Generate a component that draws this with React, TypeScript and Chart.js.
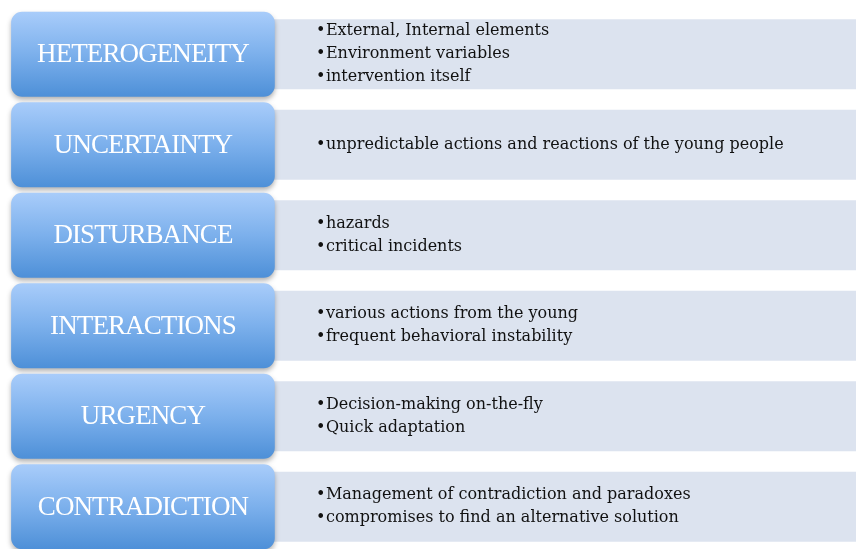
import React, { useEffect, useRef } from "react";
import { Chart, registerables } from "chart.js";

Chart.register(...registerables);

const categories = [
  "HETEROGENEITY",
  "UNCERTAINTY",
  "DISTURBANCE",
  "INTERACTIONS",
  "URGENCY",
  "CONTRADICTION",
];

const heterogeneityItems = ["External, Internal elements", "Environment variables", "intervention itself"];
const uncertaintyItems = ["unpredictable actions and reactions of the young people"];
const disturbanceItems = ["hazards", "critical incidents"];
const interactionsItems = ["various actions from the young", "frequent behavioral instability"];
const urgencyItems = ["Decision-making on-the-fly", "Quick adaptation"];
const contradictionItems = ["Management of contradiction and paradoxes", "compromises to find an alternative solution"];

const details = [
  heterogeneityItems,
  uncertaintyItems,
  disturbanceItems,
  interactionsItems,
  urgencyItems,
  contradictionItems,
];

const LABEL_FONT = "27px 'Liberation Serif', serif";
const ITEM_FONT = "16px 'DejaVu Serif', serif";

export default function App() {
  const ref = useRef<HTMLCanvasElement | null>(null);

  useEffect(() => {
    if (!ref.current) return;

    const shadowPlugin = {
      id: "boxShadow",
      beforeDatasetDraw(chart: any, args: any) {
        if (args.index !== 0) return;
        const c = chart.ctx;
        c.save();
        c.shadowColor = "rgba(0,0,0,0.3)";
        c.shadowBlur = 5;
        c.shadowOffsetX = 0;
        c.shadowOffsetY = 3;
      },
      afterDatasetDraw(chart: any, args: any) {
        if (args.index !== 0) return;
        chart.ctx.restore();
      },
    };

    const textPlugin = {
      id: "rowText",
      afterDatasetsDraw(chart: any) {
        const c = chart.ctx;
        const boxes = chart.getDatasetMeta(0).data;
        const panels = chart.getDatasetMeta(1).data;
        c.save();
        c.textBaseline = "middle";
        c.font = LABEL_FONT;
        c.fillStyle = "#ffffff";
        c.textAlign = "center";
        try { (c as any).letterSpacing = "-0.9px"; } catch (e) {}
        boxes.forEach((el: any, i: number) => {
          const cx = (el.x + el.base) / 2;
          c.fillText(categories[i], cx, el.y + 1);
        });
        try { (c as any).letterSpacing = "0px"; } catch (e) {}
        c.font = ITEM_FONT;
        c.fillStyle = "#111111";
        c.textAlign = "left";
        panels.forEach((el: any, i: number) => {
          const items = details[i];
          const left = Math.min(el.x, el.base);
          items.forEach((t: string, k: number) => {
            const y = el.y + (k - (items.length - 1) / 2) * 23;
            c.fillText("\u2022", left + 42, y);
            c.fillText(t, left + 52, y);
          });
        });
        c.restore();
      },
    };

    const chart = new Chart(ref.current, {
      type: "bar",
      data: {
        labels: categories,
        datasets: [
          {
            label: "category",
            data: categories.map(() => [1.3, 32.1]) as any,
            backgroundColor: (ctx: any) => {
              const ch = ctx.chart;
              const ys = ch.scales && ch.scales.y;
              if (!ys || typeof ctx.dataIndex !== "number") return "#7aaeea";
              const yc = ys.getPixelForValue(ctx.dataIndex);
              if (!isFinite(yc)) return "#7aaeea";
              const g = ch.ctx.createLinearGradient(0, yc - 42, 0, yc + 42);
              g.addColorStop(0, "#a8ccfa");
              g.addColorStop(0.5, "#7cb0ec");
              g.addColorStop(1, "#4e90d8");
              return g;
            },
            borderRadius: 11,
            borderSkipped: false,
            barPercentage: 0.94,
            categoryPercentage: 1,
            grouped: false,
            order: 0,
          } as any,
          {
            label: "details",
            data: categories.map(() => [32, 100]) as any,
            backgroundColor: "#dce3ef",
            borderWidth: 0,
            barPercentage: 0.773,
            categoryPercentage: 1,
            grouped: false,
            order: 1,
          } as any,
        ],
      },
      options: {
        indexAxis: "y",
        animation: false,
        responsive: false,
        devicePixelRatio: 1,
        layout: { padding: { top: 9, left: 0, right: 0, bottom: 0 } },
        scales: {
          x: { type: "linear", min: 0, max: 100, display: false },
          y: { type: "category", display: false, offset: true },
        },
        plugins: {
          legend: { display: false },
          tooltip: { enabled: false },
        },
      },
      plugins: [shadowPlugin, textPlugin],
    } as any);

    return () => chart.destroy();
  }, []);

  return (
    <div
      style={{
        position: "fixed",
        left: 0,
        top: 0,
        width: 856,
        height: 549,
        overflow: "hidden",
        background: "#ffffff",
      }}
    >
      <canvas ref={ref} width={856} height={552} style={{ display: "block" }} />
    </div>
  );
}
